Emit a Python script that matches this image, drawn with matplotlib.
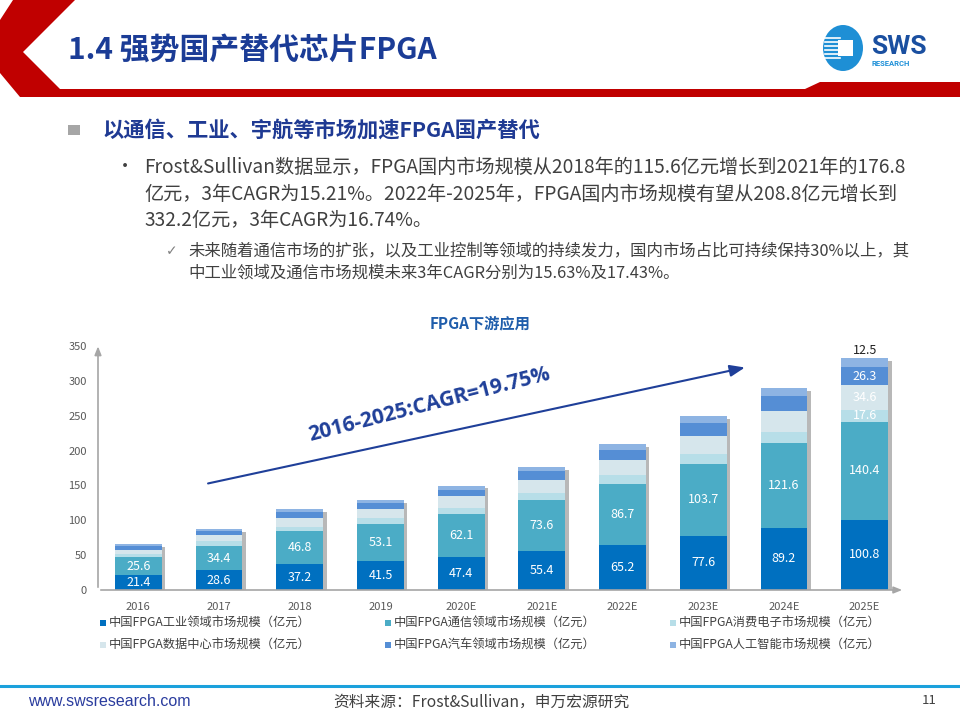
import matplotlib
matplotlib.use("Agg")
import matplotlib.pyplot as plt
import matplotlib.patheffects as pe
from matplotlib.patches import Polygon, Ellipse, Rectangle
from matplotlib.lines import Line2D

plt.rcParams['font.family'] = ['Noto Sans CJK SC', 'DejaVu Sans']

# ---- data ----
years = ['2016', '2017', '2018', '2019', '2020E', '2021E', '2022E', '2023E', '2024E', '2025E']
industry = [21.4, 28.6, 37.2, 41.5, 47.4, 55.4, 65.2, 77.6, 89.2, 100.8]
telecom = [25.6, 34.4, 46.8, 53.1, 62.1, 73.6, 86.7, 103.7, 121.6, 140.4]
consumer = [4.3, 6.8, 7.0, 8.4, 8.8, 10.8, 12.4, 14.2, 15.8, 17.6]
datacenter = [6.5, 8.4, 12.8, 13.5, 16.5, 18.0, 21.6, 25.6, 30.0, 34.6]
auto = [4.8, 6.2, 7.9, 8.2, 9.3, 12.3, 14.8, 18.4, 21.7, 26.3]
ai = [2.9, 3.2, 3.9, 4.4, 5.6, 6.7, 8.1, 10.0, 11.0, 12.5]

series_names = [
    '中国FPGA工业领域市场规模（亿元）',
    '中国FPGA通信领域市场规模（亿元）',
    '中国FPGA消费电子市场规模（亿元）',
    '中国FPGA数据中心市场规模（亿元）',
    '中国FPGA汽车领域市场规模（亿元）',
    '中国FPGA人工智能市场规模（亿元）',
]
colors = ['#0070C0', '#4BACC6', '#B7DEE8', '#D6E6EC', '#558ED5', '#8EB4E3']
cagr_text = '2016-2025:CAGR=19.75%'

W, H = 960, 720


def fx(x):
    return x / W


def fy(y):
    return 1 - y / H


fig = plt.figure(figsize=(9.6, 7.2), dpi=100)

# ---- header ----
red = '#C00000'
hdr = [(13, 0), (75, 0), (23, 52), (60, 89), (805, 89), (820, 82), (960, 82),
       (960, 97), (20, 97), (0, 73), (0, 20)]
fig.add_artist(Polygon([(fx(a), fy(b)) for a, b in hdr], closed=True,
                       facecolor=red, edgecolor='none', transform=fig.transFigure))
fig.text(fx(68), fy(50), '1.4 强势国产替代芯片FPGA', fontsize=21.5, fontweight='bold',
         color='#1B3C96', va='center', ha='left')

# logo
fig.add_artist(Ellipse((fx(843), fy(48)), 40 / W, 46 / H, facecolor='#1E8FD5',
                       edgecolor='none', transform=fig.transFigure))
for k in range(6):
    yy = 38 + k * 4
    fig.add_artist(Line2D([fx(825), fx(840)], [fy(yy), fy(yy)], color='white',
                          lw=1.2, transform=fig.transFigure))
fig.add_artist(Rectangle((fx(838), fy(56)), 15 / W, 16 / H, facecolor='white',
                         edgecolor='none', transform=fig.transFigure))
fig.text(fx(871), fy(54), 'SWS', fontsize=19, fontweight='bold', family='Roboto',
         color='#1A4FA0', va='baseline', ha='left')
fig.text(fx(872), fy(64), 'RESEARCH', fontsize=5.5, fontweight='bold', family='Roboto',
         color='#1E90D8', va='center', ha='left')

# ---- text block ----
fig.add_artist(Rectangle((fx(68), fy(135)), 12 / W, 10 / H, facecolor='#A6A6A6',
                         edgecolor='none', transform=fig.transFigure))
fig.text(fx(102), fy(131), '以通信、工业、宇航等市场加速FPGA国产替代', fontsize=15.3,
         fontweight='bold', color='#1F3A93', va='center')

body = ['Frost&Sullivan数据显示，FPGA国内市场规模从2018年的115.6亿元增长到2021年的176.8',
        '亿元，3年CAGR为15.21%。2022年-2025年，FPGA国内市场规模有望从208.8亿元增长到',
        '332.2亿元，3年CAGR为16.74%。']
fig.text(fx(116), fy(167), '•', fontsize=13, color='#404040', va='center')
for i, line in enumerate(body):
    fig.text(fx(144), fy(167 + 27 * i), line, fontsize=13.8, color='#404040', va='center')

sub = ['未来随着通信市场的扩张，以及工业控制等领域的持续发力，国内市场占比可持续保持30%以上，其',
       '中工业领域及通信市场规模未来3年CAGR分别为15.63%及17.43%。']
fig.text(fx(166), fy(251), '✓', fontsize=10, color='#808080', va='center',
         family=['DejaVu Sans'])
for i, line in enumerate(sub):
    fig.text(fx(188), fy(251 + 22 * i), line, fontsize=11.8, color='#404040', va='center')

# ---- chart ----
fig.text(fx(480), fy(323), 'FPGA下游应用', fontsize=11, fontweight='bold',
         color='#1F5DAB', ha='center', va='center')

ax = fig.add_axes([fx(98), fy(590), (905 - 98) / W, (590 - 346) / H])
data = [industry, telecom, consumer, datacenter, auto, ai]
x = list(range(len(years)))
totals = [sum(v) for v in zip(*data)]

# one shadowed backing bar per stack, segments drawn on top
backs = ax.bar(x, totals, width=0.58, color='white', zorder=2)
for p in backs:
    p.set_path_effects([pe.SimplePatchShadow(offset=(2.5, -2), shadow_rgbFace='#7F7F7F',
                                             alpha=0.55), pe.Normal()])

bottom = [0.0] * len(years)
containers = []
for vals, c, name in zip(data, colors, series_names):
    bc = ax.bar(x, vals, width=0.58, bottom=bottom, color=c, label=name, zorder=3)
    containers.append(bc)
    bottom = [b + v for b, v in zip(bottom, vals)]

lab_kw = dict(label_type='center', color='white', fontsize=9)
ax.bar_label(containers[0], labels=[f'{v:.1f}' for v in industry], **lab_kw)
ax.bar_label(containers[1], labels=[f'{v:.1f}' for v in telecom], **lab_kw)
for k, vals in ((2, consumer), (3, datacenter), (4, auto)):
    ax.bar_label(containers[k], labels=[''] * 9 + [f'{vals[-1]:.1f}'], **lab_kw)
ax.bar_label(containers[5], labels=[''] * 9 + [f'{ai[-1]:.1f}'], color='#202020',
             fontsize=9, padding=1)

ax.set_xlim(-0.5, 9.5)
ax.set_ylim(0, 350)
ax.set_yticks(range(0, 351, 50))
ax.set_xticks(x)
ax.set_xticklabels(years)
ax.tick_params(length=0, labelsize=8, labelcolor='#595959')
ax.tick_params(axis='y', pad=8)
ax.tick_params(axis='x', pad=9)
for s in ax.spines.values():
    s.set_visible(False)
ax.annotate('', xy=(0, 1.01), xytext=(0, 0), xycoords='axes fraction',
            arrowprops=dict(arrowstyle='-|>,head_length=0.5,head_width=0.2',
                            color='#A6A6A6', lw=1.2))
ax.annotate('', xy=(1.0, 0), xytext=(0, 0), xycoords='axes fraction',
            arrowprops=dict(arrowstyle='-|>,head_length=0.5,head_width=0.2',
                            color='#A6A6A6', lw=1.2))

# CAGR arrow and label
ax.annotate('', xy=(7.55, 320), xytext=(0.83, 152),
            arrowprops=dict(arrowstyle='-|>,head_length=0.9,head_width=0.35',
                            color='#1F3F99', lw=1.5), zorder=4)
ax.text(3.6, 266, cagr_text, rotation=14.4, rotation_mode='anchor', ha='center',
        va='center', fontsize=15, fontweight='bold', family='Open Sans', color='#1F3F99')

# legend
for i, (name, c) in enumerate(zip(series_names, colors)):
    row, col = divmod(i, 3)
    lx = 100 + col * 285
    ly = 623 + row * 22
    fig.add_artist(Rectangle((fx(lx), fy(ly + 3)), 6 / W, 6 / H, facecolor=c,
                             edgecolor='none', transform=fig.transFigure))
    fig.text(fx(lx + 9), fy(ly), name, fontsize=8.8, color='#404040', va='center')

# ---- footer ----
fig.add_artist(Line2D([0, 1], [fy(686), fy(686)], color='#1BA1DC', lw=2.2,
                      transform=fig.transFigure))
fig.text(fx(28), fy(701), 'www.swsresearch.com', fontsize=11.5, family='Liberation Sans',
         color='#2A3C9E', va='center')
fig.text(fx(481), fy(702), '资料来源：Frost&Sullivan，申万宏源研究', fontsize=11.3,
         color='#404040', ha='center', va='center')
fig.text(fx(922), fy(701), '11', fontsize=9.5, color='#404040', va='center')

fig.savefig('out.png', dpi=100)
